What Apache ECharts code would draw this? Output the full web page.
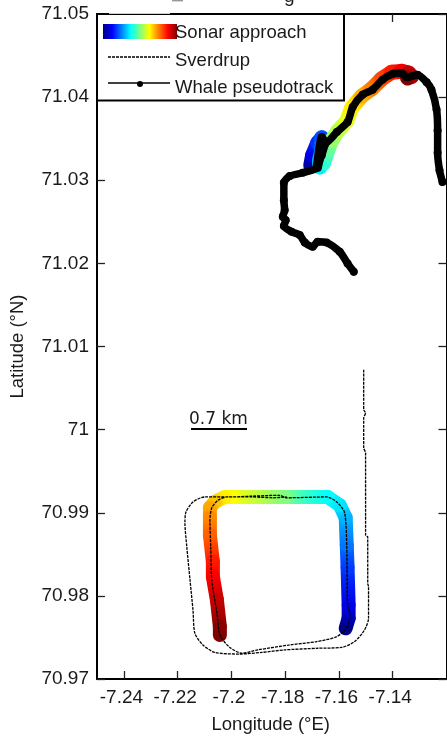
<!DOCTYPE html>
<html>
<head>
<meta charset="utf-8">
<style>html,body{margin:0;padding:0;background:#fff}#c{width:447px;height:740px}</style>
<script src="https://cdn.jsdelivr.net/npm/echarts@6/dist/echarts.min.js"></script>
</head>
<body>
<div id="c"></div>
<script>
var xTicks = [-7.24, -7.22, -7.2, -7.18, -7.16, -7.14];
var yTicks = [70.97, 70.98, 70.99, 71, 71.01, 71.02, 71.03, 71.04, 71.05];
var whaleTrack = [
[-7.1215,71.0298],[-7.1226,71.0312],[-7.1233,71.0333],[-7.1233,71.0360],[-7.1237,71.0385],[-7.1256,71.0409],
[-7.1274,71.0418],[-7.1308,71.0427],[-7.1330,71.0425],[-7.1348,71.0424],[-7.1367,71.0429],[-7.1400,71.0428],
[-7.1438,71.0421],[-7.1475,71.0409],[-7.1512,71.0403],[-7.1549,71.0388],[-7.1568,71.0370],[-7.1608,71.0358],
[-7.1646,71.0346],[-7.1664,71.0352],[-7.1675,71.0336],[-7.1683,71.0318],[-7.1664,71.0330],[-7.1653,71.0342],
[-7.1672,71.0324],[-7.1679,71.0315],[-7.1735,71.0309],[-7.1783,71.0305],[-7.1805,71.0297],[-7.1805,71.0276],
[-7.1802,71.0264],[-7.1809,71.0256],[-7.1798,71.0252],[-7.1805,71.0245],[-7.1776,71.0238],[-7.1746,71.0234],
[-7.1727,71.0225],[-7.1698,71.0220],[-7.1679,71.0226],[-7.1646,71.0225],[-7.1597,71.0214],[-7.1568,71.0200],
[-7.1545,71.0190]];
// lon, lat, colour value (0..1 along the approach)
var sonarNorth = [
[-7.1705,71.0318,.03],[-7.1698,71.0330,.1],[-7.1679,71.0345,.17],[-7.1664,71.0351,.2],[-7.1664,71.0336,.25],
[-7.1672,71.0324,.3],[-7.1672,71.0316,.36],[-7.1657,71.0321,.42],[-7.1642,71.0336,.47],[-7.1627,71.0348,.52],
[-7.1605,71.0359,.55],[-7.1571,71.0371,.6],[-7.1553,71.0387,.64],[-7.1516,71.0401,.7],[-7.1478,71.0410,.75],
[-7.1441,71.0422,.8],[-7.1404,71.0430,.85],[-7.1367,71.0431,.89],[-7.1341,71.0429,.93],[-7.1330,71.0425,.96],
[-7.1345,71.0423,1]];
var sonarSouth = [
[-7.1575,70.9761,0],[-7.1564,70.9773,.05],[-7.1564,70.9789,.1],[-7.1568,70.9834,.18],[-7.1571,70.9861,.24],
[-7.1575,70.9894,.3],[-7.1597,70.9909,.35],[-7.1642,70.9919,.375],[-7.1716,70.9919,.42],[-7.1802,70.9919,.5],
[-7.1902,70.9919,.56],[-7.1998,70.9919,.62],[-7.2025,70.9919,.64],[-7.2062,70.9913,.68],[-7.2080,70.9906,.71],
[-7.2080,70.9894,.74],[-7.2080,70.9873,.78],[-7.2069,70.9841,.85],[-7.2069,70.9823,.88],[-7.2054,70.9795,.93],
[-7.2043,70.9763,.99],[-7.2043,70.9753,1]];
var sverdrup = [
[-7.1508,71.0072],[-7.1508,71.0024],[-7.1501,71.0020],[-7.1508,71.0014],[-7.1508,70.9978],[-7.1501,70.9972],
[-7.1501,70.9873],[-7.1493,70.9871],[-7.1493,70.9815],[-7.1490,70.9811],[-7.1490,70.9773],[-7.1505,70.9759],
[-7.1542,70.9745],[-7.1590,70.9738],[-7.1679,70.9737],[-7.1802,70.9735],[-7.1887,70.9732],[-7.1969,70.9730],
[-7.2062,70.9732],[-7.2106,70.9741],[-7.2136,70.9755],[-7.2143,70.9783],[-7.2154,70.9819],[-7.2166,70.9859],
[-7.2173,70.9888],[-7.2169,70.9901],[-7.2143,70.9913],[-7.2099,70.9919],[-7.2006,70.9919],[-7.1921,70.9920],
[-7.1820,70.9921],[-7.1794,70.9918],[-7.1646,70.9919],[-7.1608,70.9913],[-7.1579,70.9900],[-7.1571,70.9859],
[-7.1568,70.9789],[-7.1560,70.9779],[-7.1568,70.9763],[-7.1608,70.9751],[-7.1683,70.9745],[-7.1783,70.9741],
[-7.1902,70.9735],[-7.1961,70.9731],[-7.2006,70.9738],[-7.2043,70.9753],[-7.2054,70.9779],[-7.2073,70.9819],
[-7.2077,70.9859],[-7.2080,70.9891],[-7.2073,70.9906],[-7.2050,70.9915],[-7.2017,70.9919],[-7.1921,70.9919],
[-7.1846,70.9918],[-7.1794,70.9919]];
var legendLabels = ['Sonar approach', 'Sverdrup', 'Whale pseudotrack'];

var JET = [[0,'#000080'],[.125,'#0000ff'],[.375,'#00ffff'],[.625,'#ffff00'],[.875,'#ff0000'],[1,'#800000']];
function hex(c){return [parseInt(c.slice(1,3),16),parseInt(c.slice(3,5),16),parseInt(c.slice(5,7),16)];}
function jet(t){
  for (var i=1;i<JET.length;i++){ if (t<=JET[i][0]){
    var f=(t-JET[i-1][0])/(JET[i][0]-JET[i-1][0]),a=hex(JET[i-1][1]),b=hex(JET[i][1]);
    return 'rgb('+[0,1,2].map(function(k){return Math.round(a[k]+(b[k]-a[k])*f);}).join(',')+')';
  }}
  return JET[JET.length-1][1];
}
function segs(p){
  var o=[];
  for (var i=0;i<p.length-1;i++) o.push([p[i][0],p[i][1],p[i+1][0],p[i+1][1],p[i][2],p[i+1][2]]);
  return o;
}
function bandSeries(p,width){
  return {
    type:'custom', coordinateSystem:'cartesian2d', silent:true, clip:false, z:2,
    encode:{x:[0,2],y:[1,3]}, data:segs(p),
    renderItem:function(params,api){
      var a=api.coord([api.value(0),api.value(1)]), b=api.coord([api.value(2),api.value(3)]);
      var t1=api.value(4), t2=api.value(5);
      var g=new echarts.graphic.LinearGradient(a[0],a[1],b[0],b[1]+0.01,[{offset:0,color:jet(t1)},{offset:1,color:jet(t2)}],true);
      return {type:'polyline',shape:{points:[a,b]},style:{stroke:g,fill:null,lineWidth:width,lineCap:'round',lineJoin:'round'}};
    }
  };
}
var F='"Liberation Sans", Arial, sans-serif', TC='#1a1a1a';
function axisCommon(values){
  return {axisLine:{show:true,onZero:false,lineStyle:{color:'#000',width:2}},
    axisTick:{show:true,inside:true,length:8,customValues:values,lineStyle:{color:'#222',width:1.3}},
    splitLine:{show:false}};
}
function fmtY(v){return String(+(+v).toFixed(2));}
var chart=echarts.init(document.getElementById('c'),null,{renderer:'canvas'});
var X0=-7.25,X1=-7.12,Y0=70.97,Y1=71.05;
chart.setOption({
  animation:false,
  backgroundColor:'#fff',
  grid:{left:97,top:14,width:349.5,height:665,show:false},
  xAxis:[
    Object.assign({type:'value',position:'bottom',min:X0,max:X1,name:'Longitude (°E)',nameLocation:'middle',nameGap:36,
      nameTextStyle:{fontFamily:F,fontSize:18.5,color:TC,padding:[0,2,0,0]},
      axisLabel:{customValues:xTicks,margin:9,padding:[0,5,0,0],fontFamily:F,fontSize:19,color:TC,showMinLabel:true,showMaxLabel:true,formatter:function(v){return String(+(+v).toFixed(2));}}},axisCommon(xTicks)),
    Object.assign({type:'value',position:'top',min:X0,max:X1,axisLabel:{show:false}},axisCommon(xTicks))
  ],
  yAxis:[
    Object.assign({type:'value',position:'left',min:Y0,max:Y1,name:'Latitude (°N)',nameLocation:'middle',nameGap:70,
      nameTextStyle:{fontFamily:F,fontSize:18.5,color:TC},
      axisLabel:{customValues:yTicks,margin:7,padding:[0,1,0,0],fontFamily:F,fontSize:19,color:TC,formatter:fmtY}},axisCommon(yTicks)),
    Object.assign({type:'value',position:'right',min:Y0,max:Y1,axisLabel:{show:false}},axisCommon(yTicks))
  ],
  series:[
    bandSeries(sonarNorth,15),
    bandSeries(sonarSouth,14),
    {type:'line',name:legendLabels[1],data:sverdrup,showSymbol:false,symbol:'none',smooth:0.25,silent:true,z:3,
      lineStyle:{color:'#000',width:1.3,type:[3,1]}},
    {type:'line',name:legendLabels[2],data:whaleTrack,symbol:'circle',symbolSize:8,showAllSymbol:true,smooth:0.25,silent:true,z:4,
      itemStyle:{color:'#000'},lineStyle:{color:'#000',width:7.5,join:'round',cap:'round'}}
  ],
  graphic:[
    {type:'rect',z:10,shape:{x:172,y:-1,width:11,height:2.4},style:{fill:'#999'}},
    {type:'text',z:10,x:284,y:-13,style:{text:'g',font:'19px '+F,fill:TC}},
    {type:'rect',z:10,shape:{x:97,y:14,width:247,height:86.5},style:{fill:'#fff',stroke:'#000',lineWidth:2}},
    {type:'line',z:11,shape:{x1:109,y1:13.5,x2:170,y2:13.5},style:{stroke:'#8dff70',lineWidth:1}},
    {type:'rect',z:11,shape:{x:103,y:24,width:74,height:15},
      style:{fill:new echarts.graphic.LinearGradient(0,0,1,0,JET.map(function(s){return {offset:s[0],color:s[1]};}))}},
    {type:'text',z:12,x:175,y:23,style:{text:legendLabels[0],font:'18.5px '+F,fill:TC}},
    {type:'line',z:11,shape:{x1:108,y1:57,x2:170,y2:57},style:{stroke:'#000',lineWidth:1.3,lineDash:[3,1]}},
    {type:'text',z:12,x:175,y:51,style:{text:legendLabels[1],font:'18.5px '+F,fill:TC}},
    {type:'line',z:11,shape:{x1:108,y1:83,x2:170,y2:83},style:{stroke:'#000',lineWidth:1.5}},
    {type:'circle',z:11,shape:{cx:140,cy:84,r:3},style:{fill:'#000'}},
    {type:'text',z:12,x:175,y:78,style:{text:legendLabels[2],font:'18.5px '+F,fill:TC}},
    {type:'text',z:12,x:189,y:411,style:{text:'0.7 km',font:'17px "DejaVu Sans", sans-serif',fill:TC}},
    {type:'line',z:11,shape:{x1:191,y1:429,x2:247,y2:429},style:{stroke:'#000',lineWidth:1.8}}
  ]
});
</script>
</body>
</html>
